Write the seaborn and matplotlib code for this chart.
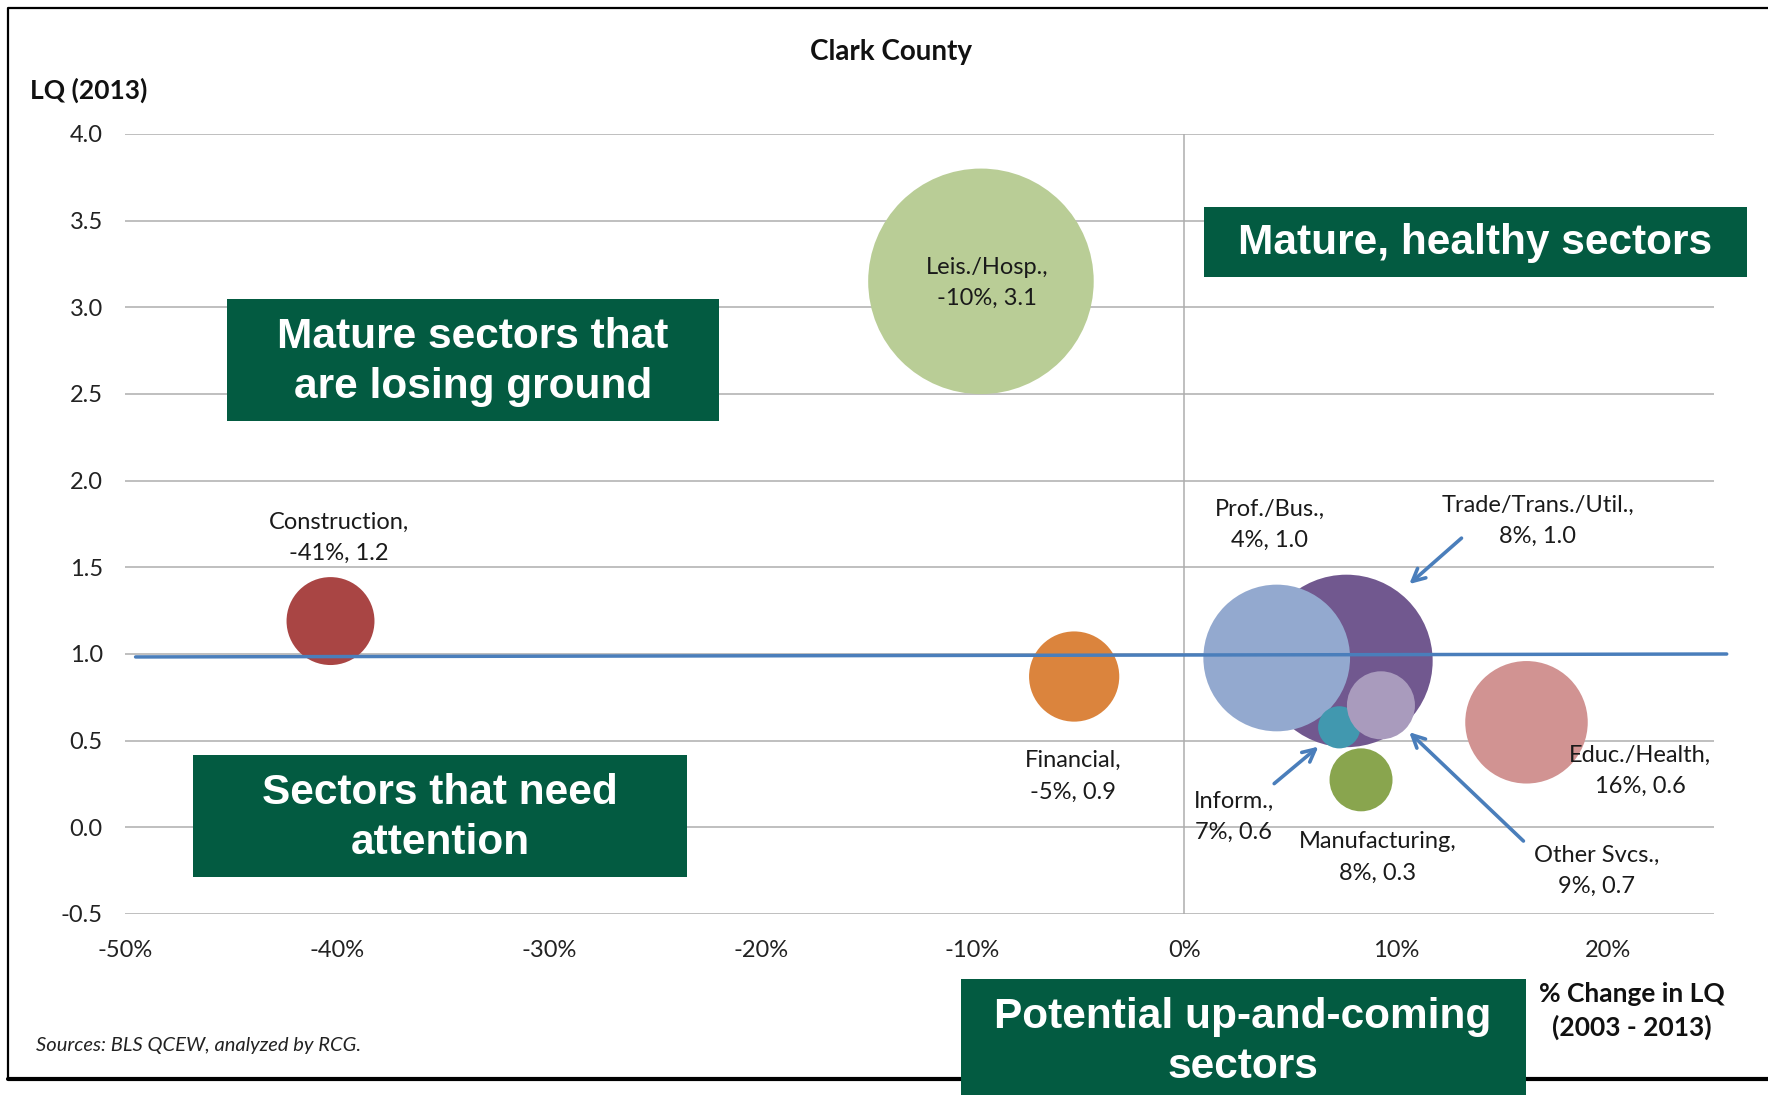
import matplotlib
matplotlib.use("Agg")
import matplotlib.pyplot as plt
import matplotlib.ticker as mticker
from matplotlib.patches import Rectangle
from matplotlib.lines import Line2D
import pandas as pd
import seaborn as sns

# values
sectors = ["Leis./Hosp.", "Construction", "Financial", "Trade/Trans./Util.", "Prof./Bus.",
           "Educ./Health", "Manufacturing", "Inform.", "Other Svcs."]
pct_change = [-0.096, -0.403, -0.052, 0.0765, 0.0436, 0.1615, 0.0834, 0.0731, 0.0928]
lq_2013 = [3.15, 1.19, 0.87, 0.96, 0.977, 0.606, 0.274, 0.577, 0.704]
bubble_size = [100, 15.2, 16, 58.5, 42.3, 29.5, 7.8, 3.5, 9.1]
label_text = ["Leis./Hosp.,\n-10%, 3.1", "Construction,\n-41%, 1.2", "Financial,\n-5%, 0.9",
              "Trade/Trans./Util.,\n8%, 1.0", "Prof./Bus.,\n4%, 1.0", "Educ./Health,\n16%, 0.6",
              "Manufacturing,\n8%, 0.3", "Inform.,\n7%, 0.6", "Other Svcs.,\n9%, 0.7"]
colors = ["#B9CD96", "#A94544", "#DB843D", "#71588F", "#93A9CF",
          "#D19392", "#89A54E", "#4198AF", "#A99BBD"]

# where the data labels sit
label_pos = [(-0.093, 3.14), (-0.399, 1.672), (-0.0526, 0.294), (0.1668, 1.77), (0.0404, 1.744),
             (0.2152, 0.327), (0.0914, -0.174), (0.0234, 0.06), (0.1945, -0.252)]
# arrows: (tail, head)
arrows = [((0.1318, 1.679), (0.1052, 1.393)),
          ((0.0414, 0.242), (0.0643, 0.476)),
          ((0.161, -0.09), (0.1052, 0.56))]

df = pd.DataFrame({"sector": sectors, "pct": pct_change, "lq": lq_2013, "size": bubble_size})

sns.set_style("white")
plt.rcParams["font.family"] = ["Lato", "DejaVu Sans"]
plt.rcParams["axes.unicode_minus"] = False

W, H = 1768, 1095
fig = plt.figure(figsize=(W / 100, H / 100), dpi=100)
ax = fig.add_axes([125 / W, 1 - 914 / H, (1714 - 125) / W, (914 - 134) / H])

for y in [-0.5, 0, 0.5, 1, 1.5, 2, 2.5, 3, 3.5, 4]:
    ax.axhline(y, color="#ADADAD", lw=1.1, zorder=0)
ax.axvline(0, color="#ADADAD", lw=1.1, zorder=0)

sns.scatterplot(data=df, x="pct", y="lq", hue="sector", palette=dict(zip(sectors, colors)),
                size="size", sizes=(0, 26370), size_norm=(0, 100), linewidth=0,
                alpha=1, legend=False, ax=ax, zorder=2)

# LQ = 1 reference line
ax.plot([-0.495, 0.256], [0.983, 1.0], color="#4A7EBB", lw=2.5, clip_on=False, zorder=3)

for txt, (lx, ly) in zip(label_text, label_pos):
    ax.text(lx, ly, txt, ha="center", va="center", multialignment="center",
            fontsize=17, color="#1a1a1a", linespacing=1.6, zorder=4)

for (tx, ty), (hx, hy) in arrows:
    ax.annotate("", xy=(hx, hy), xytext=(tx, ty),
                arrowprops=dict(arrowstyle="->,head_length=0.9,head_width=0.45",
                                color="#4A7EBB", lw=2.6), zorder=4)

ax.set_xlim(-0.5, 0.25)
ax.set_ylim(-0.5, 4.0)
ax.set_xticks([-0.5, -0.4, -0.3, -0.2, -0.1, 0, 0.1, 0.2])
ax.set_yticks([-0.5, 0, 0.5, 1, 1.5, 2, 2.5, 3, 3.5, 4])
ax.xaxis.set_major_formatter(mticker.FuncFormatter(lambda v, p: f"{v * 100:.0f}%"))
ax.yaxis.set_major_formatter(mticker.FuncFormatter(lambda v, p: f"{v:.1f}"))
ax.tick_params(axis="both", length=0, labelsize=17, colors="#222222")
ax.tick_params(axis="y", pad=16)
ax.tick_params(axis="x", pad=19)
ax.set_xlabel("")
ax.set_ylabel("")
for s in ax.spines.values():
    s.set_visible(False)
ax.grid(False)

# figure texts
fig.text(891 / W, 1 - 52 / H, "Clark County", ha="center", va="center",
         fontsize=20, fontweight="bold", color="#111111")
fig.text(30 / W, 1 - 90 / H, "LQ (2013)", ha="left", va="center",
         fontsize=19, fontweight="bold", color="#111111")
fig.text(1632 / W, 1 - 1011 / H, "% Change in LQ\n(2003 - 2013)", ha="center", va="center",
         fontsize=19, fontweight="bold", color="#111111", linespacing=1.4)
fig.text(36 / W, 1 - 1045 / H, "Sources: BLS QCEW, analyzed by RCG.", ha="left", va="center",
         fontsize=14.5, fontstyle="italic", color="#222222")

# green callout boxes
green = "#035B41"
boxes = [((1204, 207, 1747, 277), (1475, 243), "Mature, healthy sectors"),
         ((227, 299, 719, 421), (473, 362), "Mature sectors that\nare losing ground"),
         ((193, 755, 687, 877), (440, 818), "Sectors that need\nattention"),
         ((961, 979, 1526, 1110), (1243, 1042), "Potential up-and-coming\nsectors")]
for (x0, y0, x1, y1), (cx, cy), txt in boxes:
    fig.patches.append(Rectangle((x0 / W, 1 - y1 / H), (x1 - x0) / W, (y1 - y0) / H,
                                 transform=fig.transFigure, facecolor=green,
                                 edgecolor="none", zorder=5))
    fig.text(cx / W, 1 - cy / H, txt, ha="center", va="center", color="white",
             fontsize=30.5, fontweight="bold", family=["Liberation Sans", "DejaVu Sans"],
             linespacing=1.32, zorder=6)

# outer frame
fig.lines.append(Line2D([8 / W, 8 / W, 1.01], [1 - 1079 / H, 1 - 8 / H, 1 - 8 / H],
                        transform=fig.transFigure, color="black", lw=1.6, zorder=1))
fig.lines.append(Line2D([8 / W, 1.01], [1 - 1079 / H, 1 - 1079 / H],
                        transform=fig.transFigure, color="black", lw=3, zorder=1))

fig.savefig("out.png", dpi=100)
